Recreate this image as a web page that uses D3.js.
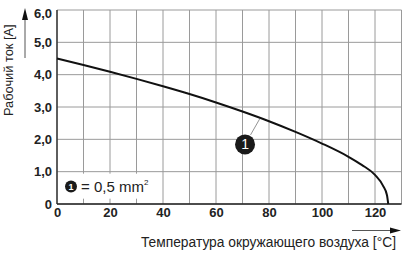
<!DOCTYPE html>
<html>
<head>
<meta charset="utf-8">
<script src="https://cdn.jsdelivr.net/npm/d3@7"></script>
<style>
  html, body { margin: 0; padding: 0; background: #fff; }
  svg { display: block; font-family: "Liberation Sans", Arial, sans-serif; }
</style>
</head>
<body>
<svg id="chart" width="408" height="256"></svg>
<script>
// Derating curve, 0.5 mm² conductor
const tempC = [0, 10, 20, 30, 40, 50, 60, 70, 80, 90, 100, 110, 115, 120, 123, 124.5, 125];
const currentA = [4.5, 4.30, 4.09, 3.87, 3.64, 3.40, 3.14, 2.86, 2.56, 2.23, 1.87, 1.46, 1.21, 0.90, 0.57, 0.28, 0];
const xTicks = [0, 20, 40, 60, 80, 100, 120];
const yTicks = [0, 1, 2, 3, 4, 5, 6];
const xGrid = [0, 10, 20, 30, 40, 50, 60, 70, 80, 90, 100, 110, 120, 130];

const xTitle = 'Температура окружающего воздуха [°C]';
const yTitle = 'Рабочий ток [A]';
const legendText = '= 0,5 mm';
const calloutTemp = 76.5;

const svg = d3.select('#chart');

const x = d3.scaleLinear().domain([0, 130]).range([57, 401.5]);
const y = d3.scaleLinear().domain([0, 6]).range([204, 10]);

const gridColor = '#9a9a9a';

// grid
svg.append('g')
  .selectAll('line')
  .data(xGrid)
  .join('line')
  .attr('x1', (d) => x(d)).attr('x2', (d) => x(d))
  .attr('y1', y(0)).attr('y2', y(6))
  .attr('stroke', gridColor)
  .attr('stroke-width', 1);

svg.append('g')
  .selectAll('line')
  .data(yTicks)
  .join('line')
  .attr('x1', x(0)).attr('x2', x(130))
  .attr('y1', (d) => y(d)).attr('y2', (d) => y(d))
  .attr('stroke', gridColor)
  .attr('stroke-width', 1);

// legend box hides the grid behind it
const legend = svg.append('g');
legend.append('rect')
  .attr('x', x(0) + 1)
  .attr('y', y(1) + 2)
  .attr('width', 98)
  .attr('height', 25)
  .attr('fill', '#fff');
legend.append('circle')
  .attr('cx', 71).attr('cy', 186.5).attr('r', 6)
  .attr('fill', '#1a1a1a');
legend.append('text')
  .attr('x', 71).attr('y', 190)
  .attr('text-anchor', 'middle')
  .attr('font-size', 9).attr('font-weight', 'bold')
  .attr('fill', '#fff')
  .text('1');
const lt = legend.append('text')
  .attr('x', 81).attr('y', 192)
  .attr('font-size', 15)
  .attr('fill', '#222')
  .text(legendText);
lt.append('tspan')
  .attr('font-size', 8)
  .attr('dy', -7)
  .text('2');

// axes lines (left and bottom dark)
svg.append('line')
  .attr('x1', x(0)).attr('x2', x(0))
  .attr('y1', y(0)).attr('y2', y(6))
  .attr('stroke', '#222').attr('stroke-width', 1.3);
svg.append('line')
  .attr('x1', x(0)).attr('x2', x(130))
  .attr('y1', y(0)).attr('y2', y(0))
  .attr('stroke', '#222').attr('stroke-width', 1.3);

// tick labels
const fmtY = (d) => d === 0 ? '0' : d3.format('.1f')(d).replace('.', ',');

const xAxis = svg.append('g')
  .attr('transform', `translate(0,${y(0)})`)
  .call(d3.axisBottom(x).tickValues(xTicks).tickSize(0).tickPadding(4)
    .tickFormat(d3.format('d')));
const yAxis = svg.append('g')
  .attr('transform', `translate(${x(0)},0)`)
  .call(d3.axisLeft(y).tickValues(yTicks).tickSize(0).tickPadding(5)
    .tickFormat(fmtY));

[xAxis, yAxis].forEach((g) => {
  g.select('.domain').remove();
  g.selectAll('text')
    .attr('font-family', '"Liberation Sans", Arial, sans-serif')
    .attr('font-size', 13)
    .attr('font-weight', 'bold')
    .attr('fill', '#222');
});
// top label sits a bit below its line
yAxis.selectAll('.tick')
  .filter((d) => d === 6)
  .select('text')
  .attr('dy', '0.6em');

// derating curve
const line = d3.line()
  .x((d, i) => x(tempC[i]))
  .y((d) => y(d))
  .curve(d3.curveMonotoneX);

svg.append('path')
  .datum(currentA)
  .attr('d', line)
  .attr('fill', 'none')
  .attr('stroke', '#111')
  .attr('stroke-width', 2);

// callout "1"
const calloutI = d3.scaleLinear().domain(tempC).range(currentA)(calloutTemp);
const ax = x(calloutTemp);
const ay = y(calloutI);
const cx = ax - 14.7;
const cy = ay + 26.6;
svg.append('line')
  .attr('x1', ax).attr('y1', ay + 1)
  .attr('x2', cx + 5.5).attr('y2', cy - 9.5)
  .attr('stroke', '#777').attr('stroke-width', 0.8);
svg.append('circle')
  .attr('cx', cx).attr('cy', cy).attr('r', 10)
  .attr('fill', '#1a1a1a');
svg.append('text')
  .attr('x', cx).attr('y', cy + 5)
  .attr('text-anchor', 'middle')
  .attr('font-size', 14)
  .attr('fill', '#fff')
  .text('1');

// axis titles with arrows
svg.append('text')
  .attr('x', 396).attr('y', 247)
  .attr('text-anchor', 'end')
  .attr('font-size', 13.8)
  .attr('fill', '#222')
  .text(xTitle);
svg.append('line')
  .attr('x1', 352).attr('x2', 391)
  .attr('y1', 230.5).attr('y2', 230.5)
  .attr('stroke', '#555').attr('stroke-width', 1);
svg.append('path')
  .attr('d', 'M390,227.5 L401,230.5 L390,233.5 Z')
  .attr('fill', '#111');

svg.append('text')
  .attr('transform', 'translate(13,116) rotate(-90)')
  .attr('text-anchor', 'start')
  .attr('font-size', 12.8)
  .attr('fill', '#222')
  .text(yTitle);
svg.append('line')
  .attr('x1', 25).attr('x2', 25)
  .attr('y1', 58).attr('y2', 18)
  .attr('stroke', '#555').attr('stroke-width', 1);
svg.append('path')
  .attr('d', 'M22,20 L25,8 L28,20 Z')
  .attr('fill', '#111');
</script>
</body>
</html>
